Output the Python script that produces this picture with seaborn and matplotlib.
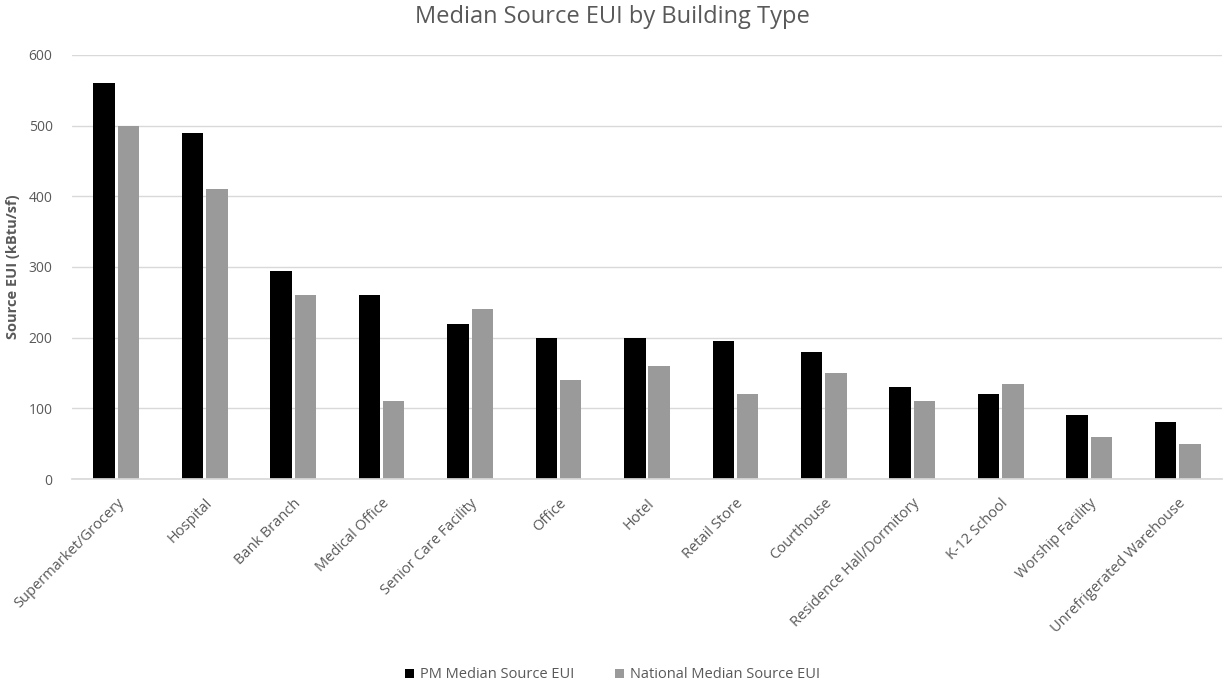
import matplotlib
matplotlib.use("Agg")
import matplotlib.pyplot as plt
from matplotlib.patches import Patch
import seaborn as sns
import pandas as pd

building_types = [
    "Supermarket/Grocery", "Hospital", "Bank Branch", "Medical Office",
    "Senior Care Facility", "Office", "Hotel", "Retail Store", "Courthouse",
    "Residence Hall/Dormitory", "K-12 School", "Worship Facility",
    "Unrefrigerated Warehouse",
]
pm_median = [560, 490, 294, 260, 220, 200, 200, 195, 180, 130, 120, 90, 80]
national_median = [500, 410, 260, 110, 240, 140, 160, 120, 150, 110, 135, 60, 50]
series_names = ["PM Median Source EUI", "National Median Source EUI"]
y_ticks = [0, 100, 200, 300, 400, 500, 600]

df = pd.DataFrame({
    "Building Type": building_types * 2,
    "EUI": pm_median + national_median,
    "Series": [series_names[0]] * len(building_types) + [series_names[1]] * len(building_types),
})

sns.set_theme(style="white")
plt.rcParams["font.family"] = ["Open Sans", "DejaVu Sans"]

text_grey = "#595959"
colors = {series_names[0]: "#000000", series_names[1]: "#9a9a9a"}

fig = plt.figure(figsize=(12.25, 6.86), dpi=100)
ax = fig.add_axes([0.0588, 0.3017, 0.9387, 0.6183])

sns.barplot(data=df, x="Building Type", y="EUI", hue="Series",
            palette=colors, width=0.55, gap=0.12, ax=ax, legend=False,
            edgecolor="none", linewidth=0)

ax.set_ylim(0, 600)
ax.set_xlim(-0.5, len(building_types) - 0.5)
ax.set_yticks(y_ticks)
ax.yaxis.grid(True, color="#d9d9d9", linewidth=1)
ax.set_axisbelow(True)
for side in ["top", "right", "left"]:
    ax.spines[side].set_visible(False)
ax.spines["bottom"].set_color("#d9d9d9")
ax.tick_params(axis="y", length=0, labelsize=10, labelcolor=text_grey, pad=14)
ax.tick_params(axis="x", length=0, labelsize=10.5, labelcolor=text_grey, pad=12)
ax.set_xticks(range(len(building_types)))
ax.set_xticklabels(building_types, rotation=45, ha="right", rotation_mode="anchor")

ax.set_xlabel("")
ax.set_ylabel("Source EUI (kBtu/sf)", fontsize=10.5, fontweight="bold",
              color=text_grey, labelpad=6)

fig.suptitle("Median Source EUI by Building Type", fontsize=17,
             color=text_grey, y=0.993)

handles = [Patch(facecolor=colors[s], edgecolor="none") for s in series_names]
fig.legend(handles, series_names, loc="lower center", ncol=2, frameon=False,
           fontsize=10.5, labelcolor=text_grey, handlelength=0.6, handleheight=0.6,
           handletextpad=0.4, columnspacing=2.8, bbox_to_anchor=(0.5, -0.014))

fig.savefig("out.png", dpi=100)
